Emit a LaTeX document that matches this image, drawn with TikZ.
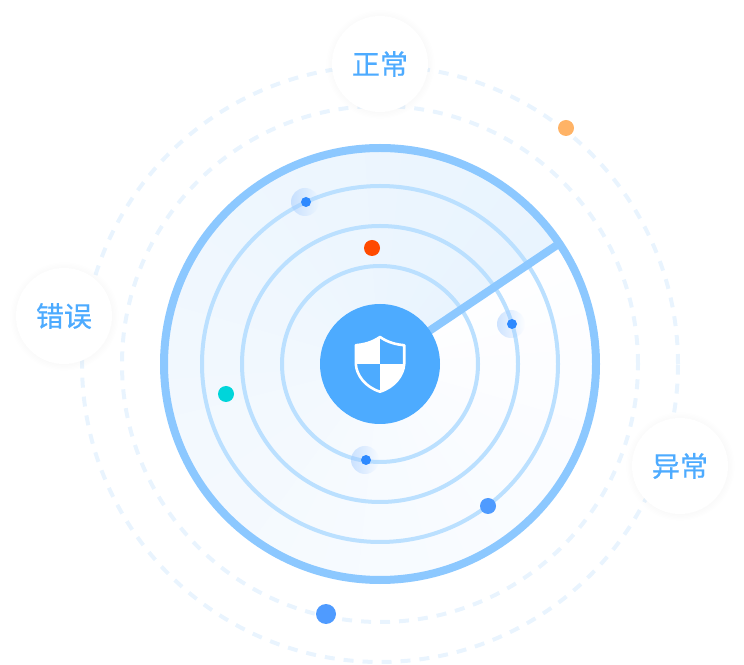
\documentclass[tikz,border=0pt]{standalone}
\usepackage{fontspec}
\newfontfamily\cjk[FakeBold=0.5]{Noto Sans CJK SC}
\usetikzlibrary{calc,fadings,shadows}
\definecolor{hubblue}{RGB}{77,171,255}
\definecolor{rimblue}{RGB}{140,200,255}
\definecolor{ringblue}{RGB}{187,224,255}
\definecolor{dashblue}{RGB}{233,244,254}
\definecolor{sweeplight}{RGB}{233,244,254}
\definecolor{sweepfade}{RGB}{254,254,255}
\definecolor{blipblue}{RGB}{45,137,255}
\definecolor{dotblue}{RGB}{79,155,255}
\definecolor{dotred}{RGB}{255,74,0}
\definecolor{dotcyan}{RGB}{0,213,218}
\definecolor{dotamber}{RGB}{255,179,102}
\tikzset{
  dashring/.style={draw=dashblue,line width=4pt,dash pattern=on 10pt off 9pt},
  radarring/.style={draw=ringblue,line width=4pt},
  tagnode/.style={circle,fill=white,minimum size=96pt,inner sep=0pt,text=hubblue,font=\fontsize{28}{28}\selectfont\cjk,
    circular drop shadow={shadow xshift=0pt,shadow yshift=0pt,shadow scale=1.14,opacity=.025,fill=black}},
  dotnode/.style={circle,inner sep=0pt,minimum size=16pt},
  blipnode/.style={circle,fill=blipblue,inner sep=0pt,minimum size=10pt},
  haloarea/.style={fill=blipblue!45,path fading=east,fill opacity=.5}
}
\newcommand{\shieldpath}{(380,327) .. controls (372,321.5) and (364,319.5) .. (355.8,318.8)
      -- (355.8,300) .. controls (356.5,289) and (365,277) .. (380,272.3)
      .. controls (395,277) and (403.5,289) .. (404.2,300)
      -- (404.2,318.8) .. controls (396,319.5) and (388,321.5) .. (380,327) -- cycle}
\begin{document}
\begin{tikzpicture}[x=1pt,y=1pt]
  \useasboundingbox (0,0) rectangle (744,664);
  \coordinate (centre) at (380,300);

  % dashed orbits
  \draw[dashring] (centre) circle (298);
  \draw[dashring] (centre) circle (258);

  % radar disc, swept tint fades going round
  \foreach \a in {394,384,...,44} {
    \pgfmathsetmacro{\p}{(394-\a)/3.5}
    \fill[sweeplight!\p!sweepfade] (centre) -- ++(33.9:216) arc (33.9:\a:216) -- cycle;
  }
  \foreach \r in {98,138,178}
    \draw[radarring] (centre) circle (\r);
  \draw[draw=rimblue,line width=8pt] (centre) circle (216);
  \coordinate (sweepend) at ($(centre)+(33.9:216)$);
  \draw[draw=rimblue,line width=8pt] (centre) -- (sweepend);

  % blips
  \foreach \x/\y in {305/462,511/340,365/204}
    \fill[haloarea] (\x,\y) circle (14);
  \node[blipnode] (blipa) at (306,462) {};
  \node[blipnode] (blipb) at (512,340) {};
  \node[blipnode] (blipc) at (366,204) {};

  \node[dotnode,fill=dotred] (dotr) at (372,416) {};
  \node[dotnode,fill=dotcyan] (dotc) at (226,270) {};
  \node[dotnode,fill=dotblue] (dotb) at (488,158) {};
  \node[dotnode,fill=dotblue,minimum size=20pt] (dotl) at (326,50) {};
  \node[dotnode,fill=dotamber] (dota) at (566,536) {};

  % hub and shield
  \node[circle,fill=hubblue,minimum size=120pt,inner sep=0pt] (hub) at (centre) {};
  \begin{scope}
    \clip \shieldpath;
    \fill[white] (350,300) rectangle (380,330);
    \fill[white] (380,300) rectangle (410,268);
  \end{scope}
  \draw[white,line width=2.6pt,line join=round] \shieldpath;

  % tags
  \node[tagnode] (normal) at (380,600) {正常};
  \node[tagnode] (wrong) at (64,348) {错误};
  \node[tagnode] (abnormal) at (680,198) {异常};
\end{tikzpicture}
\end{document}
